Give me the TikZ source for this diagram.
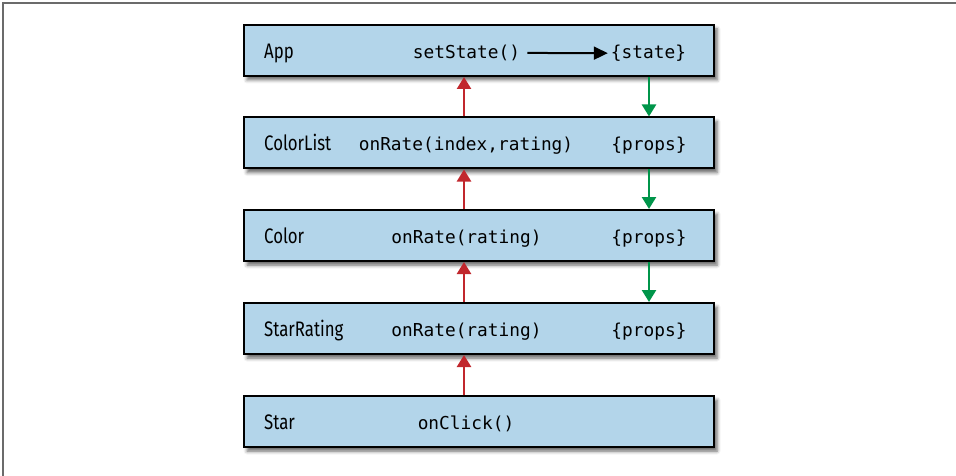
\documentclass[tikz,border=0pt]{standalone}
\usepackage{fontspec}
\setmonofont{DejaVu Sans Mono}
\newfontfamily\namefont[FakeStretch=0.8]{Fira Sans}
\usepackage{xcolor}
\definecolor{compFill}{HTML}{B3D5EA}
\definecolor{flowUp}{HTML}{C1272D}
\definecolor{flowDown}{HTML}{00954A}
\definecolor{frameGray}{HTML}{6B6B6B}
\usetikzlibrary{arrows.meta,shadows.blur}

\begin{document}
\begin{tikzpicture}[x=1pt, y=-1pt,
  compbox/.style={draw, line width=2pt, fill=compFill, minimum width=470pt, minimum height=51pt,
    blur shadow={shadow xshift=3pt, shadow yshift=-4pt, shadow blur radius=3.5pt, shadow opacity=60}},
  compname/.style={anchor=base west, inner sep=0pt, font=\namefont\fontsize{21}{24}\selectfont},
  handler/.style={anchor=base, inner sep=0pt, font=\ttfamily\fontsize{17.8}{20}\selectfont},
  upflow/.style={flowUp, line width=2.5pt, -{Triangle[width=14pt,length=12pt]}},
  downflow/.style={flowDown, line width=2.5pt, -{Triangle[width=14pt,length=12pt]}}]
  \useasboundingbox (0,0) rectangle (956,476);
  \draw[frameGray, line width=1.5pt] (956,3) -- (3,3) -- (3,476);
  \node[compbox] (app) at (479,50.5) {};
  \node[compbox] (clist) at (479,143) {};
  \node[compbox] (color) at (479,235.5) {};
  \node[compbox] (srating) at (479,328.5) {};
  \node[compbox] (star) at (479,421.5) {};
  \node[compname] (appname) at (264,58.5) {App};
  \node[compname] (clistname) at (264,151) {ColorList};
  \node[compname] (colorname) at (264,243.5) {Color};
  \node[compname] (sratingname) at (264,336.5) {StarRating};
  \node[compname] (starname) at (264,429.5) {Star};
  \node[handler] (setstate) at (466.5,58.5) {setState()};
  \node[handler] (state) at (648.5,58.5) {\{state\}};
  \node[handler] (clistrate) at (466,151) {onRate(index,rating)};
  \node[handler] (clistprops) at (649,151) {\{props\}};
  \node[handler] (colorrate) at (466.5,243.5) {onRate(rating)};
  \node[handler] (colorprops) at (649,243.5) {\{props\}};
  \node[handler] (sratingrate) at (466.5,336.5) {onRate(rating)};
  \node[handler] (sratingprops) at (649,336.5) {\{props\}};
  \node[handler] (starclick) at (466,429.5) {onClick()};
  \coordinate (upcol) at (464,0);
  \coordinate (downcol) at (649,0);
  \draw[line width=2pt, -{Triangle[width=13pt,length=14pt]}, shorten <=7pt, shorten >=3pt] (setstate.east) -- (state.west);
  \draw[downflow] (app.south -| downcol) -- (clist.north -| downcol);
  \draw[downflow] (clist.south -| downcol) -- (color.north -| downcol);
  \draw[downflow] (color.south -| downcol) -- (srating.north -| downcol);
  \draw[upflow] (star.north -| upcol) -- (srating.south -| upcol);
  \draw[upflow] (srating.north -| upcol) -- (color.south -| upcol);
  \draw[upflow] (color.north -| upcol) -- (clist.south -| upcol);
  \draw[upflow] (clist.north -| upcol) -- (app.south -| upcol);
\end{tikzpicture}
\end{document}
